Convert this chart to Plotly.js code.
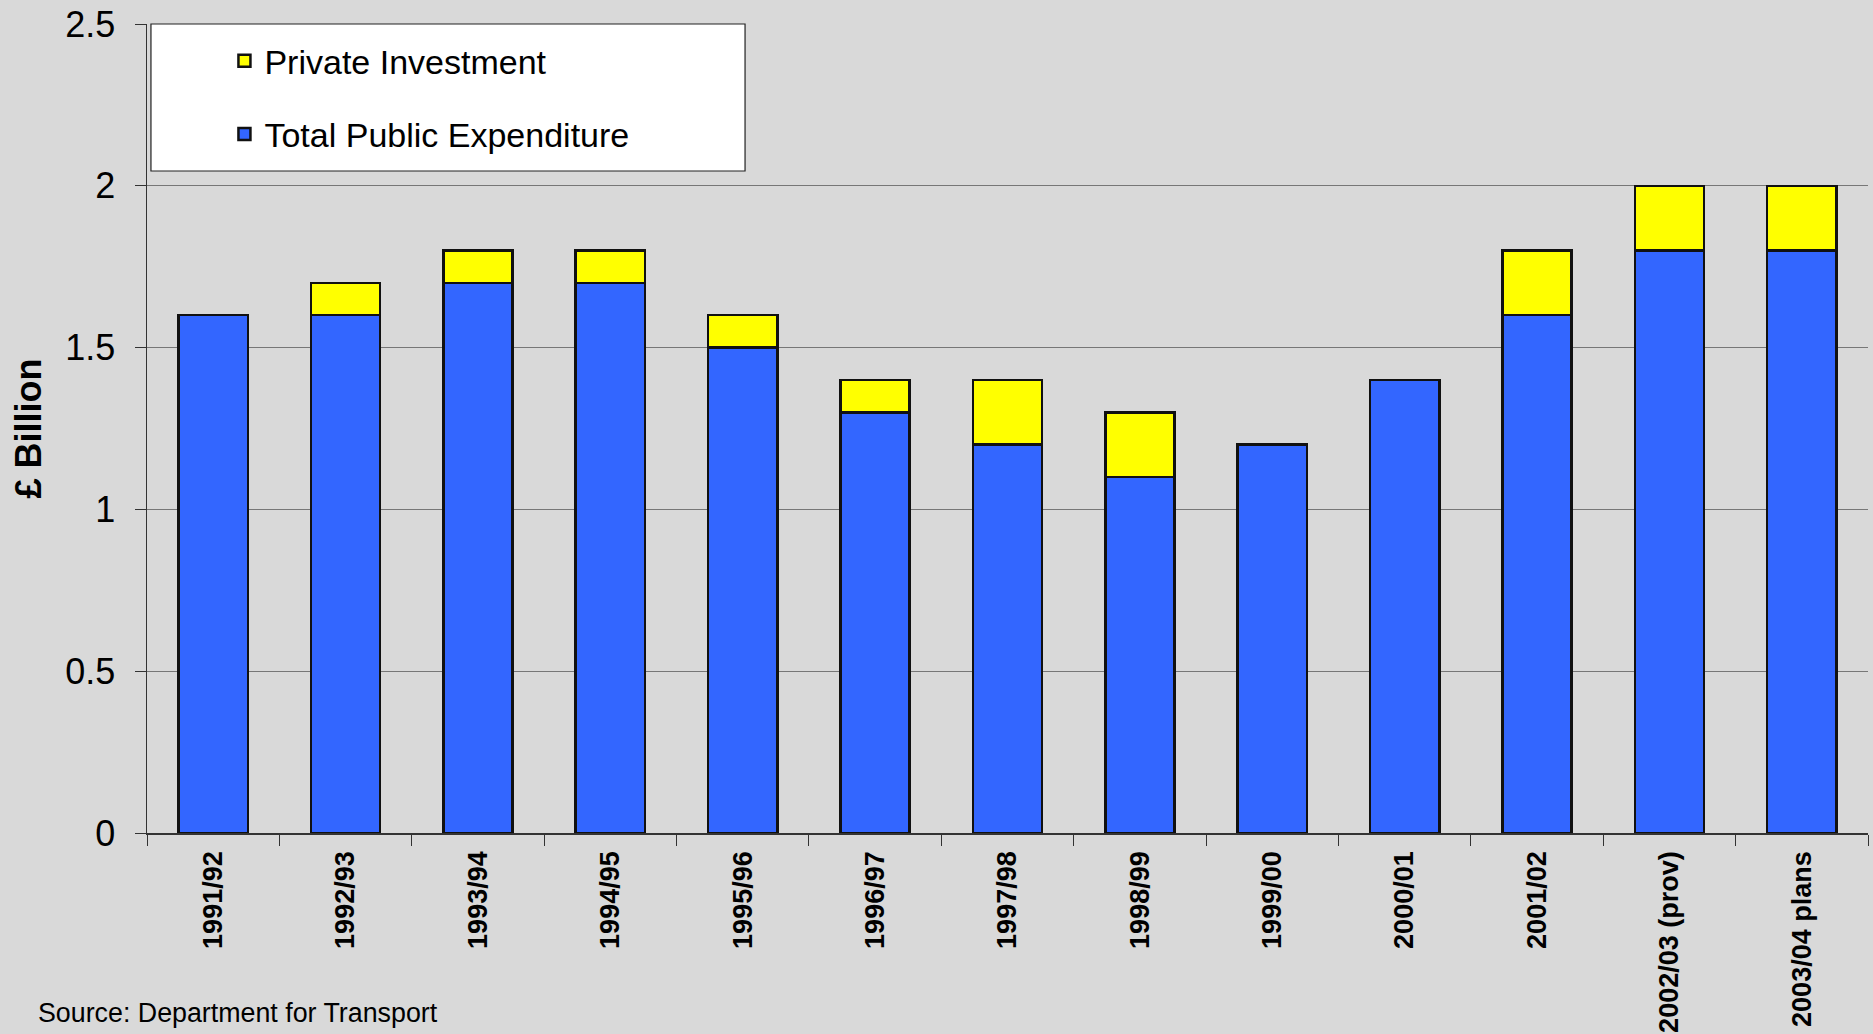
<!DOCTYPE html>
<html>
<head>
<meta charset="utf-8">
<script src="https://cdn.plot.ly/plotly-3.0.1.min.js"></script>
<style>
  html, body { margin: 0; padding: 0; background: #d9d9d9; }
  #chart { width: 1873px; height: 1034px; }
</style>
</head>
<body>
<div id="chart"></div>
<script>
'use strict';

// Years (financial) shown on the x axis
const years = [
  '1991/92', '1992/93', '1993/94', '1994/95', '1995/96', '1996/97', '1997/98',
  '1998/99', '1999/00', '2000/01', '2001/02', '2002/03 (prov)', '2003/04 plans'
];

// £ billion
const publicSpend = [1.6, 1.6, 1.7, 1.7, 1.5, 1.3, 1.2, 1.1, 1.2, 1.4, 1.6, 1.8, 1.8];
const privateInvest = [0, 0.1, 0.1, 0.1, 0.1, 0.1, 0.2, 0.2, 0, 0, 0.2, 0.2, 0.2];

const yTicks = [0, 0.5, 1, 1.5, 2, 2.5];
const yTickText = ['0', '0.5', '1', '1.5', '2', '2.5'];

const FONT = 'Liberation Sans, Arial, sans-serif';
const outline = {color: '#111111', width: 2.5};

const data = [];

data.push({
  type: 'bar',
  name: 'Total Public Expenditure',
  x: years,
  y: publicSpend,
  marker: {color: '#3366ff', line: outline},
  legendgroup: 'pub',
  legendrank: 2,
  hoverinfo: 'none'
});

data.push({
  type: 'bar',
  name: 'Private Investment',
  x: years,
  y: privateInvest,
  marker: {color: '#ffff00', line: outline},
  legendgroup: 'priv',
  legendrank: 1,
  hoverinfo: 'none'
});

const layout = {
  width: 1873,
  height: 1034,
  barmode: 'stack',
  bargap: 0.477,
  paper_bgcolor: '#d9d9d9',
  plot_bgcolor: '#d9d9d9',
  font: {family: FONT, color: '#000000'},
  margin: {l: 147, r: 5, t: 24, b: 201, pad: 0},
  showlegend: true,
  legend: {
    x: 0.045,
    xanchor: 'left',
    y: 0.99,
    yanchor: 'top',
    bgcolor: 'rgba(0,0,0,0)',
    borderwidth: 0,
    traceorder: 'grouped',
    tracegroupgap: 26,
    font: {family: FONT, size: 34, color: '#000000'}
  },
  xaxis: {
    type: 'category',
    tickson: 'boundaries',
    ticks: 'outside',
    ticklen: 11,
    tickcolor: '#333333',
    tickangle: -90,
    ticklabelstandoff: 6,
    tickfont: {family: FONT, size: 27, color: '#000000', weight: 'bold'},
    showline: true,
    linecolor: '#333333',
    linewidth: 1.5,
    showgrid: false,
    zeroline: false,
    automargin: false
  },
  yaxis: {
    range: [0, 2.5],
    tickvals: yTicks,
    ticktext: yTickText,
    ticks: 'outside',
    ticklen: 11,
    tickcolor: '#333333',
    ticklabelstandoff: 12,
    tickfont: {family: FONT, size: 36, color: '#000000'},
    showline: true,
    linecolor: '#333333',
    linewidth: 1.5,
    showgrid: true,
    gridcolor: '#777777',
    gridwidth: 1,
    zeroline: false,
    automargin: false,
    title: {
      text: '£ Billion',
      standoff: 12,
      font: {family: FONT, size: 36, color: '#000000', weight: 'bold'}
    }
  },
  shapes: [{
    // white legend panel
    type: 'rect',
    xref: 'paper',
    yref: 'paper',
    x0: 0.0023,
    x1: 0.3475,
    y0: 0.8183,
    y1: 1,
    fillcolor: '#ffffff',
    line: {color: '#222222', width: 1.2},
    layer: 'above'
  }],
  annotations: [{
    xref: 'paper',
    yref: 'paper',
    x: -0.0645,
    y: -0.2225,
    xanchor: 'left',
    yanchor: 'middle',
    text: 'Source: Department for Transport',
    showarrow: false,
    font: {family: FONT, size: 26.8, color: '#000000'}
  }]
};

Plotly.newPlot('chart', data, layout, {displayModeBar: false, staticPlot: true});
</script>
</body>
</html>
